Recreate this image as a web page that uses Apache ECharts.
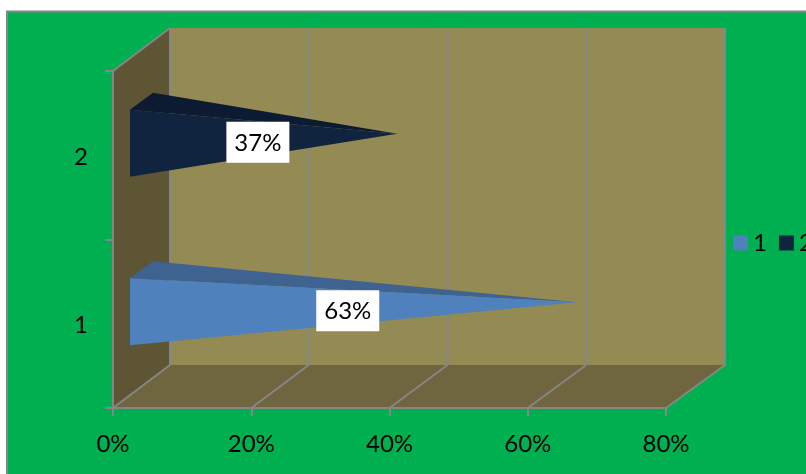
<!DOCTYPE html>
<html>
<head>
<meta charset="utf-8">
<style>html,body{margin:0;padding:0;background:#fff;overflow:hidden}#c{width:806px;height:474px}</style>
<script src="https://cdn.jsdelivr.net/npm/echarts@6/dist/echarts.min.js"></script>
</head>
<body>
<div id="c"></div>
<script>
const categories = ['1', '2'];
const xTicks = [0, 20, 40, 60, 80];
const series1Name = '1';
const series2Name = '2';
const series1Values = [[63, 0]];
const series2Values = [[37, 1]];

const FONT = 'Lato';
const GRAY = '#868686';
const DX = 57, DY = -43, BACK_STRETCH = 555 / 553;

const chart = echarts.init(document.getElementById('c'), null, {renderer: 'canvas'});

function wallsItem(params, api) {
  const cs = params.coordSys;
  const l = cs.x, r = cs.x + cs.width, t = cs.y, b = cs.y + cs.height;
  const bl = l + DX, br = l + DX + cs.width * BACK_STRETCH;
  const poly = (pts, fill) => ({type: 'polygon', shape: {points: pts}, style: {fill: fill}});
  const edge = (x1, y1, x2, y2) => ({type: 'line', shape: {x1, y1, x2, y2}, style: {stroke: GRAY, lineWidth: 2}});
  return {type: 'group', children: [
    poly([[bl, t + DY], [br, t + DY], [br, b + DY], [bl, b + DY]], '#948A54'),
    poly([[l, t], [bl, t + DY], [bl, b + DY], [l, b]], '#5E5535'),
    poly([[l, b], [bl, b + DY], [br, b + DY], [r, b]], '#6F653F'),
    edge(l, t, bl, t + DY)
  ]};
}

function gridItem(params, api) {
  const cs = params.coordSys;
  const t = cs.y, b = cs.y + cs.height;
  const x = api.coord([api.value(0), 0])[0];
  const bx = cs.x + DX + (x - cs.x) * BACK_STRETCH;
  const line = (x1, y1, x2, y2) => ({type: 'line', shape: {x1, y1, x2, y2}, style: {stroke: GRAY, lineWidth: 2}});
  return {type: 'group', children: [
    line(bx, t + DY, bx, b + DY),
    line(x, b, bx, b + DY)
  ]};
}

function coneItem(front, top) {
  return function (params, api) {
    const v = api.value(0), c = api.value(1);
    const tip0 = api.coord([v, c]);
    const base0 = api.coord([0, c]);
    const mid0 = api.coord([v / 2, c]);
    const tip = [tip0[0] + 28.5, tip0[1] - 21.5];
    const bx = base0[0] + 17, by = base0[1] - 12;
    const upper = [bx, by - 33.5], lower = [bx, by + 33.5];
    const back = [bx + 23, by - 50.5];
    const mx = mid0[0] + 17, my = mid0[1] - 13;
    return {type: 'group', children: [
      {type: 'polygon', shape: {points: [upper, back, tip]}, style: {fill: top}},
      {type: 'polygon', shape: {points: [upper, lower, tip]}, style: {fill: front}},
      {type: 'rect', shape: {x: mx - 31.5, y: my - 20.5, width: 63, height: 41}, style: {fill: '#fff'}},
      {type: 'text', x: mx, y: my + 1, style: {text: v + '%', fill: '#000', font: '24px ' + FONT, textAlign: 'center', textVerticalAlign: 'middle'}}
    ]};
  };
}

chart.setOption({
  animation: false,
  backgroundColor: '#fff',
  textStyle: {fontFamily: FONT},
  graphic: [{
    type: 'rect', z: -100, silent: true,
    shape: {x: 7, y: 11.5, width: 820, height: 490},
    style: {fill: '#00B050', stroke: GRAY, lineWidth: 2}
  }],
  grid: {left: 113, right: 140, top: 71, bottom: 66, containLabel: false},
  xAxis: {
    type: 'value', min: 0, max: 80, interval: 20,
    splitLine: {show: false},
    axisLine: {show: true, lineStyle: {color: GRAY, width: 2}},
    axisTick: {show: true, length: 8, lineStyle: {color: GRAY, width: 2}},
    axisLabel: {formatter: '{value}%', color: '#000', fontSize: 24, fontFamily: FONT, margin: 24}
  },
  yAxis: {
    type: 'category', data: categories,
    axisLine: {show: true, lineStyle: {color: GRAY, width: 2}},
    axisTick: {show: true, length: 8, lineStyle: {color: GRAY, width: 2}},
    axisLabel: {
      color: '#000', fontSize: 24, fontFamily: FONT, margin: 25,
      formatter: v => '{a|' + v + '}',
      rich: {a: {color: '#000', fontSize: 24, fontFamily: FONT, padding: [4, 0, 0, 0]}}
    }
  },
  legend: {
    data: [series1Name, series2Name],
    left: 728, top: 226, width: 200,
    itemWidth: 15, itemHeight: 15, itemGap: 12, icon: 'rect',
    textStyle: {color: '#000', fontSize: 24, fontFamily: FONT}
  },
  series: [
    {type: 'custom', name: 'walls', z: -3, silent: true, data: [[0, 0]], encode: {x: 0, y: 1}, renderItem: wallsItem},
    {type: 'custom', name: 'grid', z: -2, silent: true, data: xTicks.map(t => [t, 0]), encode: {x: 0, y: 1}, renderItem: gridItem},
    {type: 'custom', name: series2Name, z: 3, itemStyle: {color: '#10243F'}, data: series2Values, encode: {x: 0, y: 1}, renderItem: coneItem('#10243F', '#0C1B32')},
    {type: 'custom', name: series1Name, z: 4, itemStyle: {color: '#4F81BD'}, data: series1Values, encode: {x: 0, y: 1}, renderItem: coneItem('#4F81BD', '#3F6391')}
  ]
});
</script>
</body>
</html>
